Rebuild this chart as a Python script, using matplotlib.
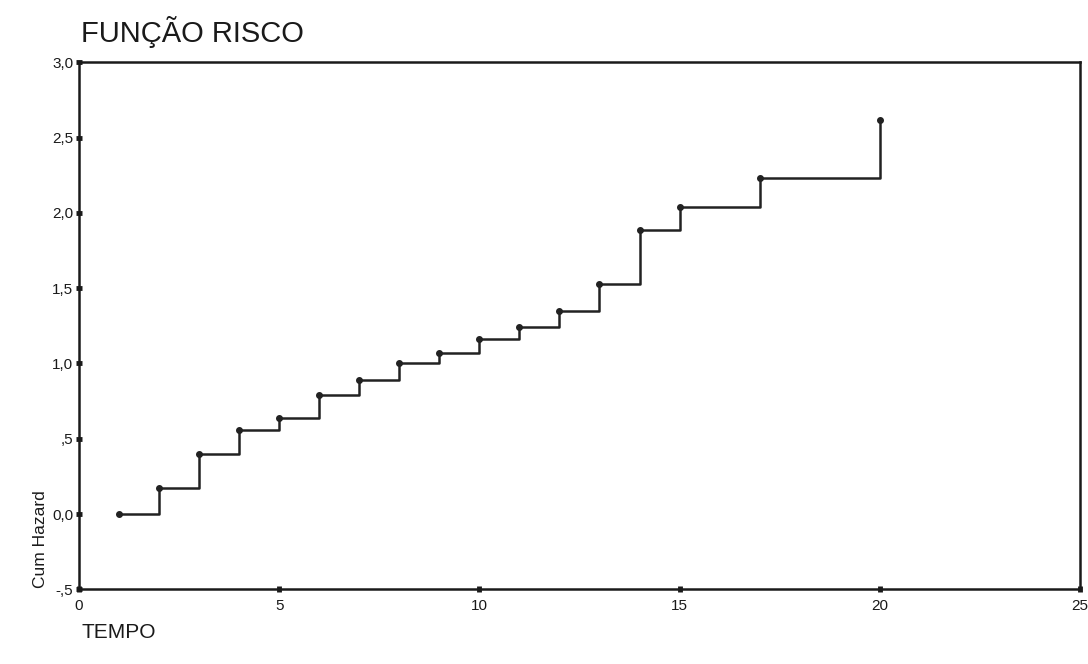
import matplotlib.pyplot as plt

# Valeurs (temps, risque cumulé)
tempo = [1, 2, 3, 4, 5, 6, 7, 8, 9, 10, 11, 12, 13, 14, 15, 17, 20]
cum_hazard = [0.00, 0.17, 0.40, 0.56, 0.64, 0.79, 0.89, 1.00, 1.07, 1.16,
              1.24, 1.35, 1.53, 1.89, 2.04, 2.23, 2.62]

x_ticks = [0, 5, 10, 15, 20, 25]
y_ticks = [-0.5, 0.0, 0.5, 1.0, 1.5, 2.0, 2.5, 3.0]
y_labels = ["-,5", "0,0", ",5", "1,0", "1,5", "2,0", "2,5", "3,0"]

plt.rcParams['font.family'] = ['Liberation Sans', 'DejaVu Sans']

fig = plt.figure(figsize=(10.88, 6.64), dpi=100)
ax = fig.add_axes([0.0726, 0.1125, 0.9200, 0.7935])

ax.plot(tempo, cum_hazard, drawstyle='steps-post', color='#222222', lw=1.8)
ax.plot(tempo, cum_hazard, 'o', color='#222222', markersize=4)

ax.set_xlim(0, 25)
ax.set_ylim(-0.5, 3.0)
ax.set_xticks(x_ticks)
ax.set_yticks(y_ticks)
ax.set_yticklabels(y_labels)
for s in ax.spines.values():
    s.set_linewidth(1.8)
    s.set_color('#1a1a1a')
ax.tick_params(axis='both', direction='inout', length=4, width=3.5, color='#1a1a1a',
               labelsize=11, labelcolor='#1a1a1a')
ax.tick_params(axis='x', pad=5)
ax.tick_params(axis='y', pad=2)

ax.set_ylabel("Cum Hazard", fontsize=12.5, color='#1a1a1a')
ax.yaxis.set_label_coords(-0.031, 0.095)

fig.text(0.0745, 0.952, "FUNÇÃO RISCO", fontsize=21, color='#1a1a1a', va='center', ha='left')
fig.text(0.0745, 0.047, "TEMPO", fontsize=15, color='#1a1a1a', va='center', ha='left')

plt.savefig("out.png", dpi=100)
